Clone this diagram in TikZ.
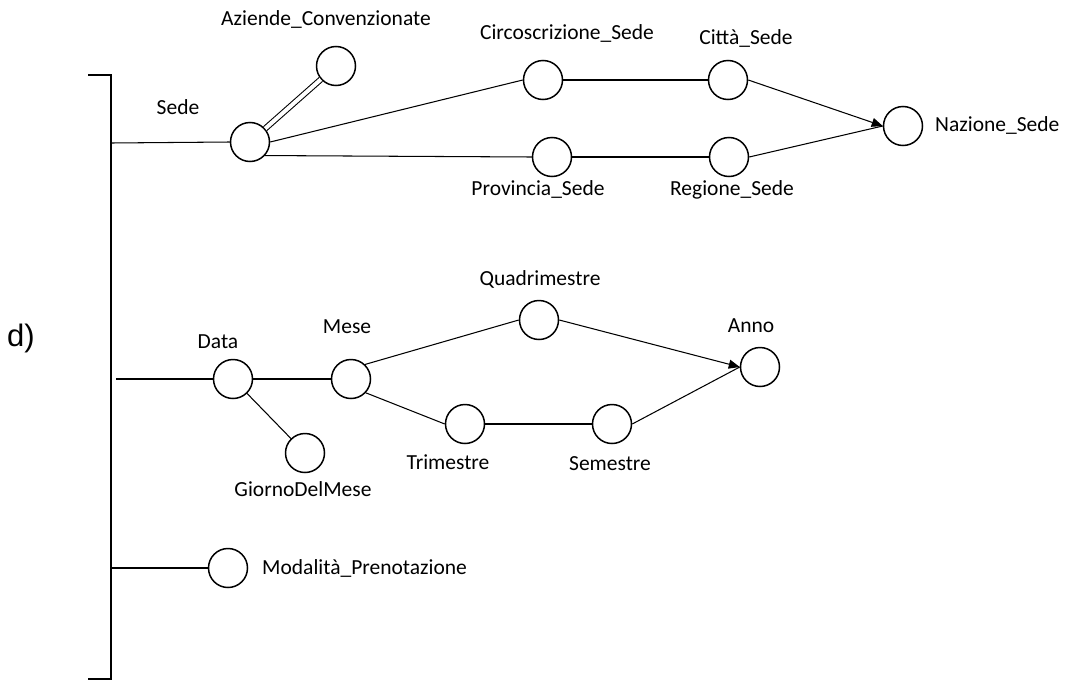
\documentclass[tikz,border=0pt]{standalone}
\usepackage{fontspec}
\setmainfont{Carlito}
\newfontfamily\arialfont{Liberation Sans}
\usetikzlibrary{arrows.meta}
\begin{document}
\begin{tikzpicture}[x=1pt,y=-1pt,
  attr/.style={circle,draw,line width=1.5pt,minimum size=39pt,inner sep=0pt},
  lbl/.style={font=\fontsize{21.5}{24}\selectfont,inner sep=0pt,text height=0.75em,text depth=0.25em},
  conn/.style={line width=1.05pt},
  tip/.style={conn,-{Triangle[length=11pt,width=9pt]}}]
\useasboundingbox (0,0) rectangle (1067,680);

% bracket that groups the three hierarchies
\coordinate (bt) at (88,75);
\coordinate (btc) at (111,75);
\coordinate (bbc) at (111,679);
\coordinate (bb) at (88,679);
\draw[conn,line width=1.3pt] (bt) -- (btc) -- (bbc) -- (bb);
\coordinate (jSede) at (111,143);
\coordinate (jData) at (116,379);
\coordinate (jMod) at (111,568);
\node[font=\arialfont\fontsize{31}{34}\selectfont,inner sep=0pt] (dlabel) at (21,338) {d)};

% location hierarchy
\node[attr] (sede) at (250,142) {};
\node[attr] (azi) at (336,66) {};
\node[attr] (circ) at (543,80) {};
\node[attr] (citta) at (728,80) {};
\node[attr] (prov) at (552,157) {};
\node[attr] (reg) at (729,157) {};
\node[attr] (naz) at (903,126) {};

\node[lbl] (lSede) at (178,112) {Sede};
\node[lbl] (lAzi) at (326,23) {Aziende\_Convenzionate};
\node[lbl] (lCirc) at (567,37) {Circoscrizione\_Sede};
\node[lbl] (lCitta) at (746,42) {Città\_Sede};
\node[lbl,anchor=west] (lNaz) at (935,129) {Nazione\_Sede};
\node[lbl] (lProv) at (538,193) {Provincia\_Sede};
\node[lbl] (lReg) at (732,193) {Regione\_Sede};

\draw[conn] (jSede) -- (sede.west);
\draw[conn,double,double distance=4pt] (sede) -- (azi);
\draw[conn] (sede.east) -- (circ.west);
\draw[conn] (sede.-42) -- (prov.west);
\draw[conn] (circ.east) -- (citta.west);
\draw[conn] (prov.east) -- (reg.west);
\draw[tip] (citta.east) -- (naz.west);
\draw[conn] (reg.east) -- (naz.west);

% time hierarchy
\node[attr] (data) at (233,379) {};
\node[attr] (giorno) at (305,453) {};
\node[attr] (mese) at (351,379) {};
\node[attr] (quad) at (539,320) {};
\node[attr] (trim) at (465,424) {};
\node[attr] (sem) at (612,424) {};
\node[attr] (anno) at (760,367) {};

\node[lbl] (lData) at (218,346) {Data};
\node[lbl] (lMese) at (347,331) {Mese};
\node[lbl] (lQuad) at (540,283) {Quadrimestre};
\node[lbl] (lAnno) at (751,330) {Anno};
\node[lbl] (lTrim) at (448,467) {Trimestre};
\node[lbl] (lSem) at (610,468) {Semestre};
\node[lbl] (lGiorno) at (303,494) {GiornoDelMese};

\draw[conn] (jData) -- (data.west);
\draw[conn] (data.east) -- (mese.west);
\draw[conn] (data) -- (giorno);
\draw[conn] (mese.46) -- (quad.west);
\draw[conn] (mese.-43) -- (trim.west);
\draw[conn] (trim.east) -- (sem.west);
\draw[tip] (quad.east) -- (anno.west);
\draw[conn] (sem.east) -- (anno.west);

% booking channel
\node[attr] (mod) at (228,568) {};
\node[lbl,anchor=west] (lMod) at (262,572) {Modalità\_Prenotazione};
\draw[conn] (jMod) -- (mod.west);
\end{tikzpicture}
\end{document}
